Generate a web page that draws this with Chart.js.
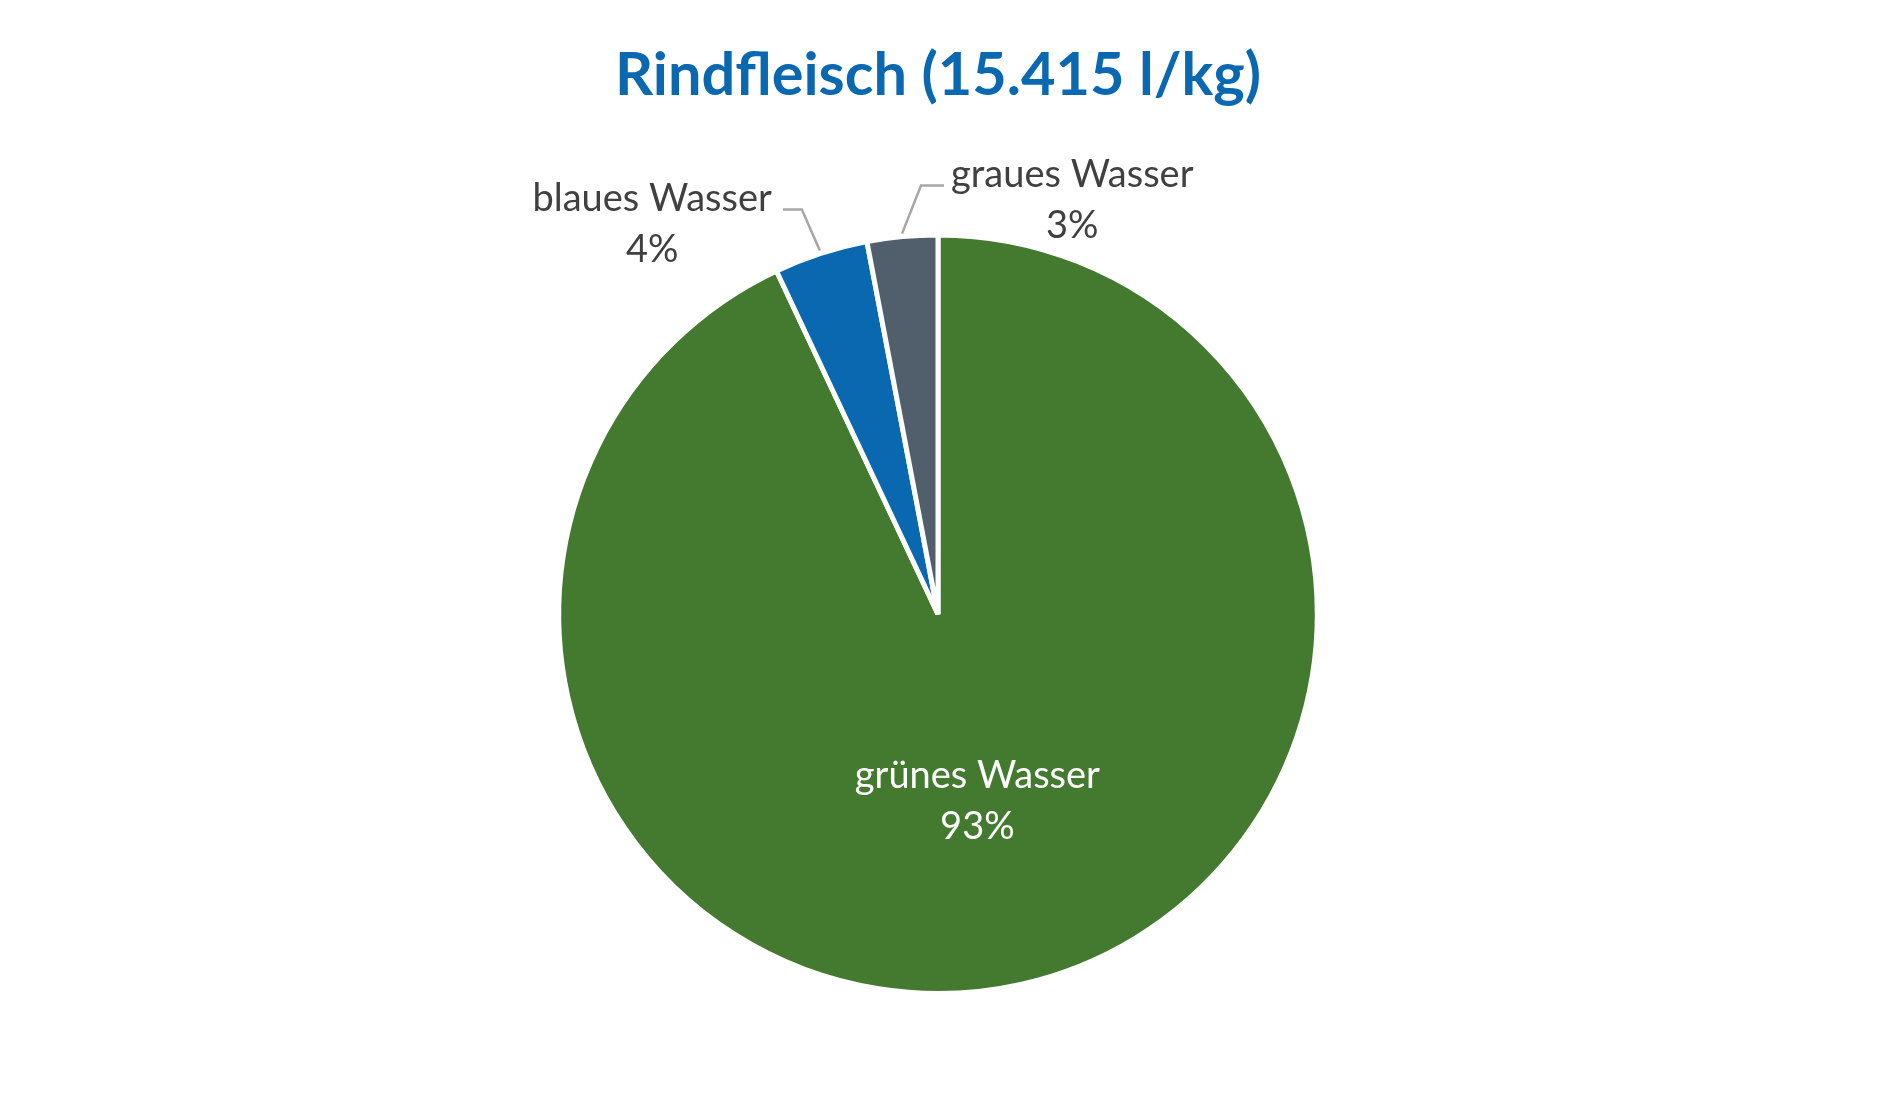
<!DOCTYPE html>
<html>
<head>
<meta charset="utf-8">
<script src="https://cdn.jsdelivr.net/npm/chart.js@4.4.1/dist/chart.umd.min.js"></script>
<style>
  html, body { margin: 0; padding: 0; background: #fff; }
  #wrap { width: 1879px; height: 1113px; }
</style>
</head>
<body>
<div id="wrap"><canvas id="pieChart"></canvas></div>
<script>
// Wasser-Fußabdruck Rindfleisch
var titleText = 'Rindfleisch (15.415 l/kg)';
var categories = ['grünes Wasser', 'blaues Wasser', 'graues Wasser'];
var shares = [93, 4, 3];
var sliceColors = ['#447A2F', '#0968B0', '#515E6B'];

// wie die Beschriftungen gesetzt werden (innen oder mit Führungslinie außen)
var labelStyle = [
    { inside: true, color: '#ffffff' },
    { inside: false, color: '#404040', elbow: [-18, -41], run: -19, gap: 11 },
    { inside: false, color: '#404040', elbow: [19, -48], run: 23, gap: 7 }
];

var labelFont = '38px Lato';
var lineGap = 51;

var sliceLabels = {
    id: 'sliceLabels',
    afterDatasetsDraw: function (chart) {
        var ctx = chart.ctx;
        var meta = chart.getDatasetMeta(0);
        var total = shares.reduce(function (a, b) { return a + b; }, 0);
        ctx.save();
        ctx.font = labelFont;
        ctx.textBaseline = 'alphabetic';
        meta.data.forEach(function (arc, i) {
            var p = arc.getProps(['x', 'y', 'startAngle', 'endAngle', 'outerRadius'], true);
            var mid = (p.startAngle + p.endAngle) / 2;
            var st = labelStyle[i];
            var pct = Math.round(shares[i] / total * 100) + '%';
            var name = categories[i];
            var w = ctx.measureText(name).width;
            ctx.fillStyle = st.color;
            ctx.textAlign = 'center';
            if (st.inside) {
                var r = p.outerRadius * 0.5;
                var cx = p.x + Math.cos(mid) * r;
                var cy = p.y + Math.sin(mid) * r;
                ctx.fillText(name, cx - 2, cy - 11);
                ctx.fillText(pct, cx - 2, cy - 11 + lineGap);
            } else {
                var sx = p.x + Math.cos(mid) * (p.outerRadius + 3);
                var sy = p.y + Math.sin(mid) * (p.outerRadius + 3);
                var ex = sx + st.elbow[0];
                var ey = sy + st.elbow[1];
                var tx = ex + st.run;
                ctx.strokeStyle = '#A6A6A6';
                ctx.lineWidth = 2.5;
                ctx.beginPath();
                ctx.moveTo(sx, sy);
                ctx.lineTo(ex, ey);
                ctx.lineTo(tx, ey);
                ctx.stroke();
                var center = st.run > 0 ? tx + st.gap + w / 2 : tx - st.gap - w / 2;
                ctx.fillText(name, center, ey + 1);
                ctx.fillText(pct, center, ey + 1 + lineGap);
            }
        });
        ctx.restore();
    }
};

new Chart(document.getElementById('pieChart'), {
    type: 'pie',
    data: {
        labels: categories,
        datasets: [{
            data: shares,
            backgroundColor: sliceColors,
            borderColor: '#ffffff',
            borderWidth: 5
        }]
    },
    options: {
        responsive: true,
        maintainAspectRatio: false,
        animation: false,
        layout: { padding: { left: 0, right: 3, top: 0, bottom: 117 } },
        plugins: {
            legend: { display: false },
            tooltip: { enabled: false },
            title: {
                display: true,
                text: titleText,
                color: '#0968B0',
                font: { family: 'Lato', size: 59.5, weight: 'bold', lineHeight: 1.2 },
                padding: { top: 40, bottom: 121 }
            }
        }
    },
    plugins: [sliceLabels]
});
</script>
</body>
</html>
